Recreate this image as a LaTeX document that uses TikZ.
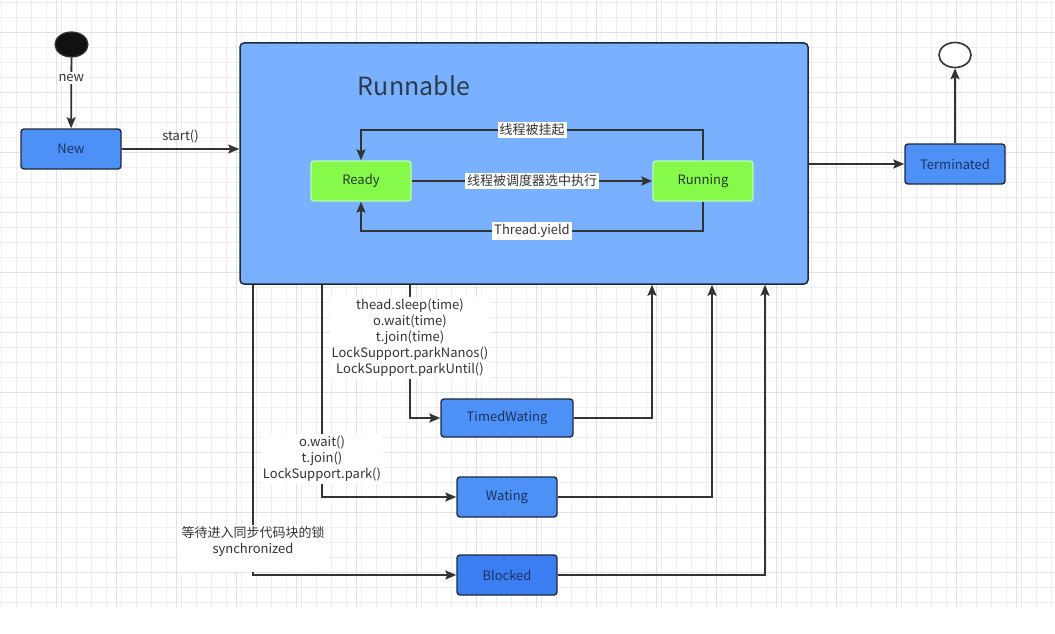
\documentclass[tikz,border=0pt]{standalone}
\usepackage{fontspec}
\setmainfont{Noto Sans CJK SC}
\usetikzlibrary{arrows.meta,shapes.geometric,calc}
\definecolor{bluefill}{HTML}{4D91F7}
\definecolor{blockfill}{HTML}{3B7EF3}
\definecolor{boxline}{HTML}{1E2A3A}
\definecolor{navy}{HTML}{1B3260}
\definecolor{runfill}{HTML}{79B0FF}
\definecolor{greenfill}{HTML}{86FA4A}
\definecolor{greenline}{HTML}{B4FFB0}
\definecolor{greentext}{HTML}{2A3A28}
\definecolor{connc}{HTML}{333333}
\definecolor{labeltext}{HTML}{333333}
\definecolor{titlec}{HTML}{2C3A4E}
\definecolor{gridminor}{HTML}{EEEEEE}
\definecolor{gridmajor}{HTML}{E0E0E0}
\begin{document}
\begin{tikzpicture}[x=1pt,y=-1pt,
  txt/.style={font=\fontsize{13}{16}\selectfont},
  bluebox/.style={txt, rectangle, rounded corners=3pt, draw=boxline, line width=1.4pt, fill=bluefill, minimum width=100pt, minimum height=40pt, text=navy},
  greenbox/.style={txt, rectangle, rounded corners=3pt, draw=greenline, line width=1.4pt, fill=greenfill, minimum width=100pt, minimum height=40pt, text=greentext},
  conn/.style={draw=connc, line width=1.8pt, -{Stealth[length=11pt,width=9pt,inset=2pt]}},
  lbl/.style={txt, fill=white, text=labeltext, align=center, inner sep=2pt}
]
\useasboundingbox (0,0) rectangle (1055,634);
\fill[white] (0,0) rectangle (1055,634);
% grid
\foreach \x in {1.7,16.7,...,1055} \draw[gridminor, line width=0.8pt] (\x,0) -- (\x,608);
\foreach \y in {2.3,17.3,...,605} \draw[gridminor, line width=0.8pt] (0,\y) -- (1055,\y);
\foreach \x in {56.7,116.7,...,1055} \draw[gridmajor, line width=0.9pt] (\x,0) -- (\x,608);
\foreach \y in {32.3,92.3,...,605} \draw[gridmajor, line width=0.9pt] (0,\y) -- (1055,\y);

% nodes
\node[ellipse, draw=connc, fill=black!93, line width=1.2pt, minimum width=33pt, minimum height=25pt, inner sep=0pt] (start) at (71.5,44.5) {};
\node[bluebox] (new) at (71,149) {New};
\node[rectangle, rounded corners=4pt, draw=boxline, line width=1.5pt, fill=runfill, minimum width=568pt, minimum height=241pt] (runnable) at (524,163.5) {};
\node[text=titlec, font=\fontsize{25}{30}\selectfont] (title) at (414,86) {Runnable};
\node[greenbox] (ready) at (361,181) {Ready};
\node[greenbox] (running) at (703,181) {Running};
\node[bluebox] (term) at (955,164) {Terminated};
\node[ellipse, draw=connc, fill=white, line width=1.6pt, minimum width=32pt, minimum height=25pt, inner sep=0pt] (endc) at (955,55) {};
\node[bluebox, minimum width=132pt, minimum height=38pt] (timed) at (507,418) {TimedWating};
\node[bluebox] (wait) at (507,497) {Wating};
\node[bluebox, fill=blockfill] (blocked) at (507,575) {Blocked};

% helper coordinates
\coordinate (topy) at (0,130);
\coordinate (boty) at (0,231);
\coordinate (tx) at (410,0);
\coordinate (wx) at (322,0);
\coordinate (bx) at (253,0);
\coordinate (rx1) at (652,0);
\coordinate (rx2) at (712,0);
\coordinate (rx3) at (765,0);

% connectors
\draw[conn] (start) -- node[lbl, pos=0.29] {new} (new);
\draw[conn] (new.east) -- node[txt, text=labeltext, yshift=13pt] {start()} (new.east -| runnable.west);
\draw[conn] (ready) -- node[lbl] {线程被调度器选中执行} (running);
\draw[conn] (running.north) -- (running.north |- topy) -| node[lbl, pos=0.25] {线程被挂起} (ready.north);
\draw[conn] (running.south) -- (running.south |- boty) -| node[lbl, pos=0.25] {Thread.yield} (ready.south);
\draw[conn] (runnable.east |- term) -- (term);
\draw[conn] (term) -- (endc);

\draw[conn] (runnable.south -| tx) |- node[lbl, pos=0.2] {thead.sleep(time)\\o.wait(time)\\t.join(time)\\LockSupport.parkNanos()\\LockSupport.parkUntil()} (timed);
\draw[conn] (runnable.south -| wx) |- node[lbl, pos=0.41] {o.wait()\\t.join()\\LockSupport.park()} (wait);
\draw[conn] (runnable.south -| bx) |- node[lbl, pos=0.454] {等待进入同步代码块的锁\\synchronized\\\rule{0pt}{12pt}} (blocked);

\draw[conn] (timed) -| (runnable.south -| rx1);
\draw[conn] (wait) -| (runnable.south -| rx2);
\draw[conn] (blocked) -| (runnable.south -| rx3);
\end{tikzpicture}
\end{document}
